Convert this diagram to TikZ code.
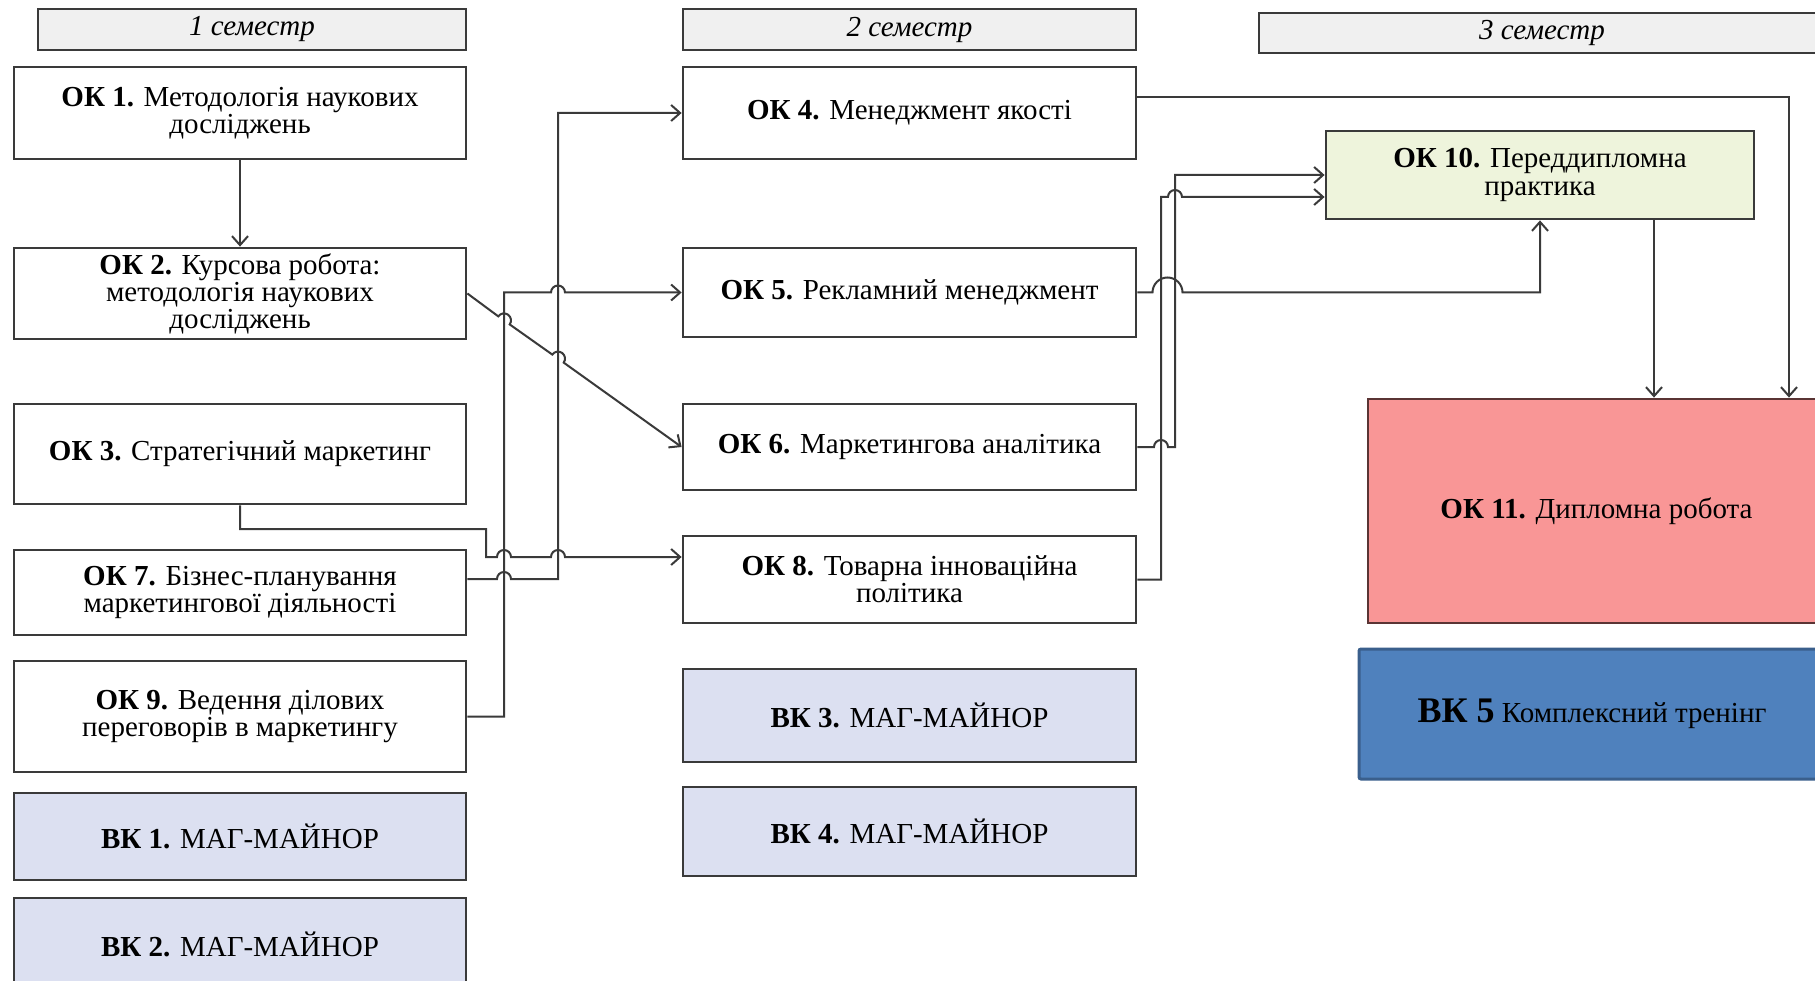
\documentclass[tikz,border=0pt]{standalone}
\usepackage{fontspec}
\setmainfont{Liberation Serif}
\usetikzlibrary{arrows.meta,calc}
\definecolor{linec}{HTML}{3A3A3A}
\definecolor{hdrfill}{HTML}{F0F0F0}
\definecolor{bkfill}{HTML}{DCE0F1}
\definecolor{greenfill}{HTML}{EEF4DC}
\definecolor{redfill}{HTML}{F99696}
\definecolor{redline}{HTML}{5A3434}
\definecolor{bluefill}{HTML}{4F81BD}
\definecolor{blueline}{HTML}{3A5F8C}
\begin{document}
\begin{tikzpicture}[x=1pt,y=-1pt,
  box/.style={draw=linec,line width=2.8pt,fill=white,inner sep=0pt,align=center,font=\fontsize{29}{27}\selectfont},
  colA/.style={box,minimum width=452pt},
  colB/.style={box,minimum width=453pt},
  hdr/.style={box,fill=hdrfill,font=\fontsize{29}{29}\selectfont\itshape},
  bk/.style={fill=bkfill},
  conn/.style={draw=linec,line width=2pt},
  arr/.style={conn,-{Straight Barb[length=9pt,width=16pt]}}]
\useasboundingbox (0,0) rectangle (1815,981);
\clip (0,0) rectangle (1815,981);
\fill[white] (0,0) rectangle (1815,981);

% headers
\node[hdr,minimum width=428pt,minimum height=41pt] (h1) at (252,29.5) {1 семестр};
\node[hdr,minimum width=453pt,minimum height=41pt] (h2) at (909.5,29.5) {2 семестр};
\node[hdr,minimum width=566pt,minimum height=40pt] (h3) at (1542,33) {3 семестр};

% column 1
\node[colA,minimum height=92pt] (ok1) at (240,113) {\textbf{ОК 1.} Методологія наукових\\досліджень};
\node[colA,minimum height=91pt] (ok2) at (240,293.5) {\textbf{ОК 2.} Курсова робота:\\методологія наукових\\досліджень};
\node[colA,minimum height=100pt] (ok3) at (240,454) {\textbf{ОК 3.} Стратегічний маркетинг};
\node[colA,minimum height=85pt] (ok7) at (240,592.5) {\textbf{ОК 7.} Бізнес-планування\\маркетингової діяльності};
\node[colA,minimum height=111pt] (ok9) at (240,716.5) {\textbf{ОК 9.} Ведення ділових\\переговорів в маркетингу};
\node[colA,bk,minimum height=87pt] (bk1) at (240,836.5) {\textbf{ВК 1.} МАГ-МАЙНОР};
\node[colA,bk,minimum height=92pt] (bk2) at (240,944) {\textbf{ВК 2.} МАГ-МАЙНОР};

% column 2
\node[colB,minimum height=92pt] (ok4) at (909.5,113) {\textbf{ОК 4.} Менеджмент якості};
\node[colB,minimum height=89pt] (ok5) at (909.5,292.5) {\textbf{ОК 5.} Рекламний менеджмент};
\node[colB,minimum height=86pt] (ok6) at (909.5,447) {\textbf{ОК 6.} Маркетингова аналітика};
\node[colB,minimum height=87pt] (ok8) at (909.5,579.5) {\textbf{ОК 8.} Товарна інноваційна\\політика};
\node[colB,bk,minimum height=93pt] (bk3) at (909.5,715.5) {\textbf{ВК 3.} МАГ-МАЙНОР};
\node[colB,bk,minimum height=89pt] (bk4) at (909.5,831.5) {\textbf{ВК 4.} МАГ-МАЙНОР};

% column 3
\node[box,fill=greenfill,minimum width=428pt,minimum height=88pt,font=\fontsize{29}{28}\selectfont] (ok10) at (1540,175) {\textbf{ОК 10.} Переддипломна\\практика};
\node[box,fill=redfill,draw=redline,minimum width=457pt,minimum height=224pt] (ok11) at (1596.5,511) {\textbf{ОК 11.} Дипломна робота};
\node[box,fill=bluefill,draw=blueline,line width=3pt,rounded corners=2pt,minimum width=466pt,minimum height=130pt] (bk5) at (1592,714)
  {{\fontsize{36}{40}\selectfont\bfseries ВК 5} {\fontsize{29}{32}\selectfont Комплексний тренінг}};

% connectors, 1 -> 2
\draw[arr] (ok1) -- (ok2);
\draw[arr] (ok2.east) -- (498.29,316.36) arc[start angle=144.73,end angle=-35.27,radius=7pt]
  -- (552.29,354.56) arc[start angle=144.73,end angle=-35.27,radius=7pt] -- (ok6.west);
\draw[arr] (ok3.south) -- (240,529) -- (486,529) -- (486,557)
  -- (497,557) arc[start angle=180,end angle=0,radius=7pt]
  -- (551,557) arc[start angle=180,end angle=0,radius=7pt] -- (ok8.west |- 0,557);
\draw[arr] (ok7.east |- 0,579) -- (497,579) arc[start angle=180,end angle=0,radius=7pt]
  -- (558,579) -- (558,113) -- (ok4.west);
\draw[arr] (ok9.east) -- (504,716.5) -- (504,292.5)
  -- (551,292.5) arc[start angle=180,end angle=0,radius=7pt] -- (ok5.west);

% connectors, 2 -> 3
\draw[arr] (ok4.east |- 0,97) -- (1789,97) -- (ok11.north -| 1789,0);
\draw[arr] (ok5.east) -- (1152.5,292.5) arc[start angle=180,end angle=0,radius=15pt] -- (1540,292.5) -- (ok10.south);
\draw[arr] (ok6.east) -- (1154,447) arc[start angle=180,end angle=0,radius=7pt] -- (1175,447) -- (1175,175) -- (ok10.west);
\draw[arr] (ok8.east) -- (1161,579.5) -- (1161,197) -- (1168,197) arc[start angle=180,end angle=0,radius=7pt] -- (ok10.west |- 0,197);
\draw[arr] (ok10.south -| 1654,0) -- (ok11.north -| 1654,0);
\end{tikzpicture}
\end{document}
